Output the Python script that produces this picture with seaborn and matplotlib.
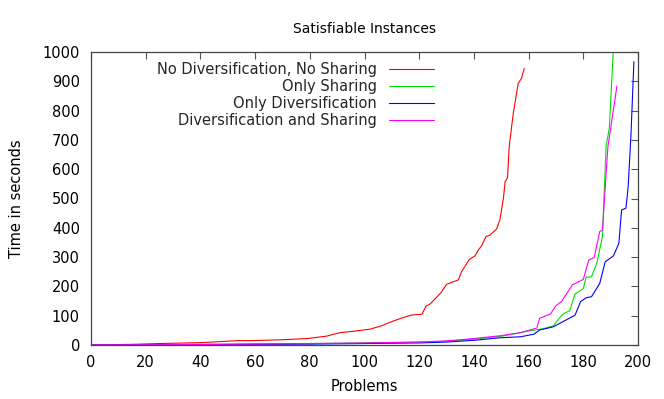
import matplotlib
matplotlib.use("Agg")
import matplotlib.pyplot as plt
import seaborn as sns
import pandas as pd

# Data (problem index, time in seconds)
red_x = [0, 14, 25, 40, 54, 59, 70, 79, 86, 91, 96, 102, 106, 110, 113, 117, 121, 122.5, 124, 128, 130, 134.3,
         135.5, 138.3, 140.4, 141.6, 142.8, 144.4, 145.9, 148.3, 149.5, 150.8, 151.4, 152.3, 152.9, 154.4,
         156.2, 157.4, 158.4]
red_y = [0.5, 2, 5, 8, 15, 15, 18, 22, 30, 42, 47, 54, 65, 80, 90, 102, 105, 133, 140, 179, 207, 222,
         250, 292, 304, 324, 338, 370, 375, 396, 427, 501, 557, 571, 677, 791, 893, 910, 944]

green_x = [0, 20, 40, 60, 80, 100, 120, 130, 140, 150, 157, 160, 165, 169, 172, 173, 175, 177, 180, 181,
           183, 185, 187, 188, 188.3, 189.5, 191]
green_y = [0.5, 1, 2, 4, 5, 7, 10, 13, 20, 30, 42, 48, 55, 65, 100, 108, 117, 174, 193, 231,
           233, 281, 370, 600, 677, 740, 1010]

blue_x = [0, 40, 80, 100, 120, 130, 140, 150, 157, 162, 164, 169, 173, 177, 179, 181, 183, 186, 188, 191,
          193, 194, 195.6, 196.4, 197.4, 198.5]
blue_y = [0.5, 1, 3, 5, 7, 10, 16, 25, 28, 37, 51, 62, 82, 102, 148, 161, 165, 210, 284, 304,
          347, 461, 467, 540, 711, 967]

mag_x = [0, 20, 40, 60, 80, 100, 120, 130, 140, 150, 157, 160, 163, 164, 168, 170, 172, 176, 180, 182,
         184, 186, 187, 189, 192.3]
mag_y = [0.5, 1, 2, 3, 5, 7, 10, 14, 22, 32, 42, 50, 58, 91, 106, 134, 148, 205, 224, 290,
         299, 387, 392, 677, 884]

series = [
    ("No Diversification, No Sharing", red_x, red_y, "#ff0000"),
    ("Only Sharing", green_x, green_y, "#00e000"),
    ("Only Diversification", blue_x, blue_y, "#0000ff"),
    ("Diversification and Sharing", mag_x, mag_y, "#ff00ff"),
]

x_ticks = list(range(0, 201, 20))
y_ticks = list(range(0, 1001, 100))

sns.set_theme(style="white")
plt.rcParams["font.family"] = ["DejaVu Sans"]

fig = plt.figure(figsize=(6.64, 3.99), dpi=100)
ax = fig.add_axes([91/664, 1-345/399, (638-91)/664, (345-52)/399])

for name, xs, ys, col in series:
    df = pd.DataFrame({"x": xs, "y": ys})
    sns.lineplot(data=df, x="x", y="y", ax=ax, color=col, lw=0.8, label=name,
                 estimator=None, sort=False)

ax.set_xlim(0, 200)
ax.set_ylim(0, 1000)
ax.set_xticks(x_ticks)
ax.set_yticks(y_ticks)
ax.tick_params(direction="in", length=5, width=0.8, colors="#555555", labelcolor="black",
               labelsize=10.5, top=True, right=True, pad=8)
ax.tick_params(axis="x", pad=7)
for s in ax.spines.values():
    s.set_color("#444444")
    s.set_linewidth(0.9)

ax.set_xlabel("Problems", fontsize=10.5, color="black", labelpad=7)
ax.set_ylabel("Time in seconds", fontsize=10.5, color="black", labelpad=13)
ax.set_title("Satisfiable Instances", fontsize=10, color="black", pad=14)

leg = ax.legend(loc="upper right", bbox_to_anchor=((444-91)/547, 1.0), frameon=False,
                markerfirst=False, fontsize=10.5, handlelength=3.1, labelspacing=0.13,
                handletextpad=0.8, borderaxespad=0.3)

fig.savefig("out.png", dpi=100)
